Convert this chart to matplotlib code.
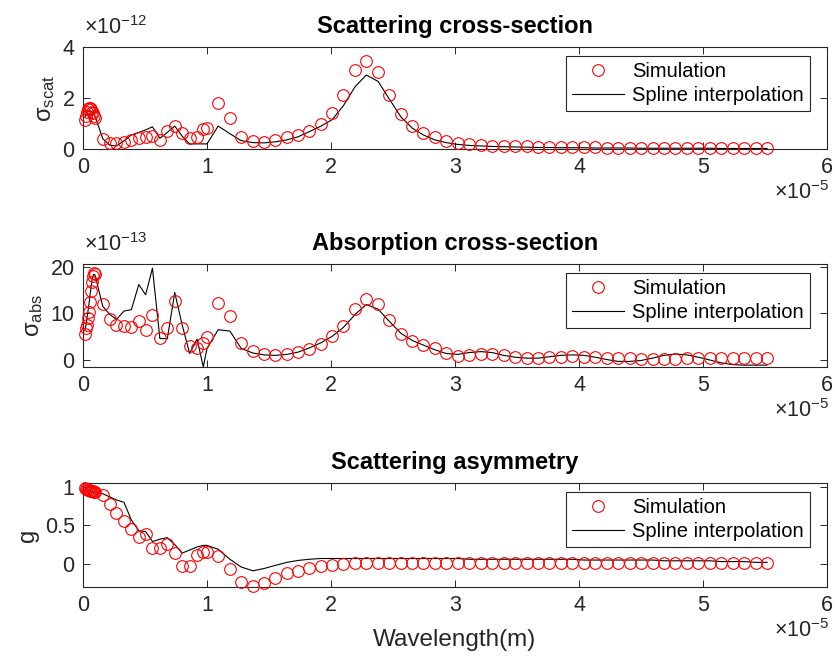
import matplotlib
matplotlib.use('Agg')
import matplotlib.pyplot as plt

plt.rcParams['font.family'] = ['Liberation Sans', 'DejaVu Sans']
plt.rcParams['mathtext.fontset'] = 'custom'
plt.rcParams['mathtext.rm'] = 'Liberation Sans'
plt.rcParams['mathtext.it'] = 'Liberation Sans:italic'
plt.rcParams['mathtext.bf'] = 'Liberation Sans:bold'
plt.rcParams['mathtext.default'] = 'regular'

# ---------------- data (wavelength in units of 1e-5 m) ----------------
wavelength = [
    0.016, 0.024, 0.032, 0.040, 0.048, 0.056, 0.064, 0.072, 0.080, 0.088, 0.096,
    0.16, 0.215, 0.27, 0.33, 0.39, 0.45, 0.505, 0.56, 0.62, 0.68, 0.74, 0.80,
    0.86, 0.92, 0.97, 1.00, 1.09, 1.185, 1.275, 1.37, 1.46, 1.55, 1.645, 1.735,
    1.825, 1.92, 2.01, 2.10, 2.195, 2.285, 2.38, 2.47, 2.565, 2.655, 2.745,
    2.837, 2.930, 3.022, 3.115, 3.207, 3.299, 3.392, 3.484, 3.577, 3.669, 3.761,
    3.854, 3.946, 4.039, 4.131, 4.223, 4.316, 4.408, 4.501, 4.593, 4.685, 4.778,
    4.870, 4.963, 5.055, 5.147, 5.240, 5.332, 5.425, 5.517,
]

# scattering cross-section (units of 1e-12)
scat_sim = [
    1.15, 1.30, 1.45, 1.55, 1.62, 1.60, 1.55, 1.45, 1.40, 1.30, 1.20,
    0.38, 0.25, 0.25, 0.29, 0.35, 0.42, 0.46, 0.51, 0.36, 0.72, 0.92, 0.61,
    0.45, 0.49, 0.78, 0.81, 1.79, 1.23, 0.48, 0.33, 0.29, 0.35, 0.46, 0.55,
    0.71, 1.00, 1.40, 2.12, 3.10, 3.46, 3.03, 2.12, 1.36, 0.90, 0.64,
    0.46, 0.33, 0.25, 0.20, 0.17, 0.13, 0.12, 0.10, 0.10, 0.08, 0.07,
    0.07, 0.06, 0.06, 0.06, 0.05, 0.05, 0.05, 0.05, 0.04, 0.04, 0.04,
    0.04, 0.04, 0.04, 0.04, 0.03, 0.03, 0.03, 0.03,
]
scat_spline = [
    1.25, 1.35, 1.42, 1.48, 1.50, 1.50, 1.48, 1.45, 1.42, 1.38, 1.30,
    0.40, 0.15, 0.12, 0.32, 0.55, 0.65, 0.75, 0.87, 0.42, 0.65, 0.90, 0.50,
    0.20, 0.20, 0.20, 0.20, 0.90, 0.60, 0.33, 0.25, 0.24, 0.28, 0.36, 0.48,
    0.68, 0.90, 1.15, 1.70, 2.45, 2.90, 2.65, 1.96, 1.25, 0.82, 0.55,
    0.36, 0.25, 0.18, 0.14, 0.12, 0.10, 0.09, 0.08, 0.07, 0.06, 0.06,
    0.05, 0.05, 0.05, 0.04, 0.04, 0.04, 0.04, 0.03, 0.03, 0.03, 0.03,
    0.03, 0.03, 0.03, 0.02, 0.02, 0.02, 0.02, 0.02,
]

# absorption cross-section (units of 1e-13)
abs_sim = [
    5.6, 6.9, 7.6, 9.0, 10.3, 12.5, 14.8, 16.8, 18.0, 18.6, 18.5,
    12.0, 8.7, 7.6, 7.2, 7.1, 8.3, 6.5, 9.6, 4.7, 6.9, 12.7, 6.9,
    2.9, 2.5, 3.6, 4.9, 12.3, 9.4, 3.6, 2.0, 1.3, 1.1, 1.3, 1.8,
    2.3, 3.4, 5.1, 7.4, 10.9, 13.0, 12.0, 8.5, 5.6, 4.1, 3.3,
    2.5, 1.6, 0.9, 1.1, 1.3, 1.3, 1.1, 0.7, 0.5, 0.5, 0.7,
    0.7, 0.9, 0.7, 0.7, 0.5, 0.4, 0.4, 0.2, 0.2, 0.2, 0.2,
    0.4, 0.5, 0.5, 0.5, 0.5, 0.5, 0.5, 0.5,
]
abs_spline = [
    6.5, 7.5, 9.0, 10.5, 12.0, 13.8, 15.5, 17.0, 18.0, 18.4, 18.3,
    11.5, 9.8, 8.7, 10.5, 10.8, 16.2, 14.0, 19.7, 4.6, 4.6, 14.5, 7.5,
    1.4, 4.5, -1.5, 2.5, 6.5, 6.2, 2.5, 1.5, 1.1, 1.0, 1.2, 1.7,
    2.6, 3.7, 5.1, 7.0, 9.8, 11.9, 10.9, 8.3, 5.7, 4.2, 3.2,
    2.2, 1.4, 1.2, 1.6, 1.8, 1.6, 1.0, 0.6, 0.4, 0.4, 0.7,
    1.0, 1.1, 1.0, 0.6, 0.1, -0.3, -0.3, -0.1, 0.4, 1.0, 1.3,
    1.1, 0.6, 0.0, -0.6, -1.0, -1.1, -1.1, -1.1,
]

# scattering asymmetry g
g_sim = [
    0.98, 0.97, 0.97, 0.96, 0.96, 0.95, 0.95, 0.94, 0.94, 0.93, 0.93,
    0.90, 0.78, 0.66, 0.56, 0.45, 0.35, 0.39, 0.20, 0.21, 0.26, 0.14, -0.03,
    -0.03, 0.12, 0.15, 0.15, 0.10, -0.06, -0.24, -0.29, -0.25, -0.18, -0.12, -0.09,
    -0.05, -0.03, -0.01, 0.00, 0.01, 0.01, 0.01, 0.01, 0.01, 0.01, 0.01,
    0.01, 0.01, 0.01, 0.01, 0.01, 0.01, 0.01, 0.01, 0.01, 0.01, 0.01,
    0.01, 0.01, 0.01, 0.01, 0.01, 0.01, 0.01, 0.01, 0.01, 0.01, 0.01,
    0.01, 0.01, 0.01, 0.01, 0.01, 0.01, 0.01, 0.01,
]
g_spline = [
    0.96, 0.96, 0.95, 0.95, 0.95, 0.94, 0.94, 0.94, 0.93, 0.93, 0.93,
    0.91, 0.87, 0.83, 0.80, 0.57, 0.43, 0.42, 0.29, 0.32, 0.34, 0.25, 0.14,
    0.18, 0.22, 0.24, 0.24, 0.19, 0.06, -0.04, -0.09, -0.06, -0.02, 0.02, 0.045,
    0.06, 0.07, 0.07, 0.07, 0.07, 0.07, 0.07, 0.07, 0.07, 0.07, 0.07,
    0.07, 0.07, 0.07, 0.06, 0.06, 0.06, 0.06, 0.06, 0.06, 0.06, 0.06,
    0.06, 0.06, 0.05, 0.05, 0.05, 0.05, 0.05, 0.05, 0.05, 0.04, 0.04,
    0.04, 0.04, 0.04, 0.03, 0.03, 0.03, 0.02, 0.02,
]

titles = ['Scattering cross-section', 'Absorption cross-section', 'Scattering asymmetry']
ylabels = ['σ$_{scat}$', 'σ$_{abs}$', 'g']
y_exponents = [r'$\times10^{-12}$', r'$\times10^{-13}$', None]
y_ticks = [[0, 2, 4], [0, 10, 20], [0, 0.5, 1]]
y_ticklabels = [['0', '2', '4'], ['0', '10', '20'], ['0', '0.5', '1']]
y_limits = [(0, 4), (-1.5, 20.6), (-0.30, 1.05)]
x_ticks = [0, 1, 2, 3, 4, 5, 6]
x_exponent = r'$\times10^{-5}$'
legend_labels = ['Simulation', 'Spline interpolation']

sims = [scat_sim, abs_sim, g_sim]
splines = [scat_spline, abs_spline, g_spline]

# ---------------- figure ----------------
W, H = 835, 660
fig = plt.figure(figsize=(W / 100, H / 100), dpi=100)
axes_px = [(47, 149), (264, 367), (483, 587)]  # (top, bottom) in pixels
left_px, right_px = 83, 827
dark = '#262626'

for i in range(3):
    top, bot = axes_px[i]
    ax = fig.add_axes([left_px / W, 1 - bot / H, (right_px - left_px) / W, (bot - top) / H])
    ax.plot(wavelength, sims[i], 'o', color='red', markerfacecolor='none',
            markersize=8.4, markeredgewidth=0.8, clip_on=False,
            label=legend_labels[0], zorder=3)
    ax.plot(wavelength, splines[i], '-', color='black', linewidth=0.8,
            label=legend_labels[1], zorder=2)
    ax.set_xlim(0, 6)
    ax.set_ylim(*y_limits[i])
    ax.set_xticks(x_ticks)
    ax.set_xticklabels([str(t) for t in x_ticks])
    ax.set_yticks(y_ticks[i])
    ax.set_yticklabels(y_ticklabels[i])
    ax.tick_params(direction='in', length=5, width=0.7, top=True, right=True,
                   labelsize=15.5, colors=dark, pad=6)
    for sp in ax.spines.values():
        sp.set_color(dark)
        sp.set_linewidth(0.8)
    ax.set_title(titles[i], fontsize=17, fontweight='bold', pad=10, color='black')
    ax.set_ylabel(ylabels[i], fontsize=17, color=dark, labelpad=4)
    if y_exponents[i]:
        ax.annotate(y_exponents[i], xy=(0, 1), xycoords='axes fraction',
                    xytext=(1, 13), textcoords='offset pixels', ha='left',
                    va='baseline', fontsize=15.5, color=dark)
    ax.annotate(x_exponent, xy=(1, 0), xycoords='axes fraction',
                xytext=(2, -50), textcoords='offset pixels', ha='right',
                va='baseline', fontsize=15.5, color=dark)
    leg = ax.legend(loc='upper right', bbox_to_anchor=(0.977, 0.912),
                    borderaxespad=0, fontsize=14.5, numpoints=1, fancybox=False,
                    handlelength=2.6, handletextpad=0.4, labelspacing=0.25,
                    borderpad=0.3, framealpha=1)
    leg.get_frame().set_edgecolor(dark)
    leg.get_frame().set_linewidth(0.8)
    if i == 2:
        ax.set_xlabel('Wavelength(m)', fontsize=17.5, color=dark, labelpad=9)

fig.savefig('out.png', dpi=100)
